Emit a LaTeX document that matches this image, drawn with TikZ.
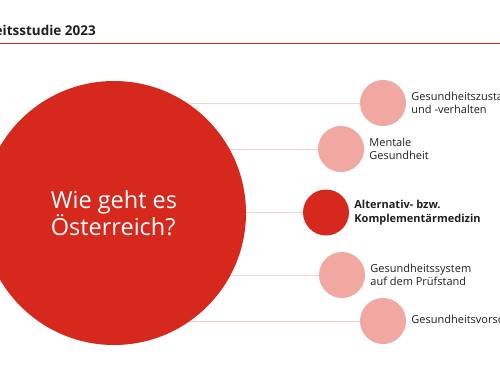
\documentclass[tikz,border=0pt]{standalone}
\usepackage{fontspec}
\setmainfont{Open Sans}
\usetikzlibrary{positioning,backgrounds}
\definecolor{oeRed}{RGB}{214,40,28}
\definecolor{oePink}{RGB}{240,168,160}
\definecolor{oeLine}{RGB}{246,208,203}
\definecolor{oeText}{RGB}{35,31,32}

\begin{document}
\begin{tikzpicture}[x=1pt, y=-1pt,
    topic/.style={circle, fill=oePink, minimum size=46pt, inner sep=0pt},
    topictext/.style={align=left, inner sep=0pt, text=oeText,
        font=\fontsize{11}{13.5}\selectfont},
    spoke/.style={draw=oeLine, line width=0.8pt}]
    \useasboundingbox (0,0) rectangle (500,383);

    \node[anchor=base east, inner sep=0pt, text=oeText,
        font=\bfseries\fontsize{13.5}{15}\selectfont] (titel) at (96,35) {Gesundheitsstudie 2023};
    \coordinate (regelL) at (0,43.5);
    \coordinate (regelR) at (500,43.5);
    \draw[oeRed, line width=1.1pt] (regelL) -- (regelR);

    \node[circle, fill=oeRed, minimum size=264pt, inner sep=0pt, text=white, align=left,
        font=\fontsize{23.5}{27}\selectfont] (frage) at (114,213) {Wie geht es\\Österreich?};

    \node[topic] (zustand) at (383,103) {};
    \node[topic] (mental) at (341,149) {};
    \node[topic, fill=oeRed] (alternativ) at (326,212.5) {};
    \node[topic] (system) at (342,275) {};
    \node[topic] (vorsorge) at (383,321) {};

    \node[topictext, right=5pt of zustand] (zustandtext) {Gesundheitszustand\\und -verhalten};
    \node[topictext, right=5pt of mental] (mentaltext) {Mentale\\Gesundheit};
    \node[topictext, right=5pt of alternativ, font=\bfseries\fontsize{11}{13.5}\selectfont] (alternativtext) {Alternativ- bzw.\\Komplementärmedizin};
    \node[topictext, right=5pt of system] (systemtext) {Gesundheitssystem\\auf dem Prüfstand};
    \node[topictext, right=5pt of vorsorge] (vorsorgetext) {Gesundheitsvorsorge};

    \begin{scope}[on background layer]
        \draw[spoke] (frage.center |- zustand) -- (zustand);
        \draw[spoke] (frage.center |- mental) -- (mental);
        \draw[spoke] (frage.center |- alternativ) -- (alternativ);
        \draw[spoke] (frage.center |- system) -- (system);
        \draw[spoke] (frage.center |- vorsorge) -- (vorsorge);
    \end{scope}
\end{tikzpicture}
\end{document}
